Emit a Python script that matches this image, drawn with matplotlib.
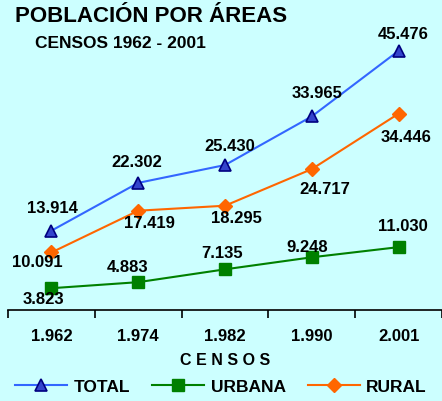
import matplotlib.pyplot as plt

# --------------------------
# DATOS
# --------------------------
censos = ["1.962", "1.974", "1.982", "1.990", "2.001"]
total = [13.914, 22.302, 25.430, 33.965, 45.476]
urbana = [3.823, 4.883, 7.135, 9.248, 11.030]
rural = [10.091, 17.419, 18.295, 24.717, 34.446]

# desplazamiento de etiquetas (pixeles)
off_total = [(1, 22), (-1, 20), (5, 19), (5, 23), (5, 16)]
off_urbana = [(-8, -11), (-11, 15), (-3, 16), (-5, 10), (4, 21)]
off_rural = [(-14, -10), (11, -13), (11, -13), (13, -20), (7, -24)]

plt.rcParams['font.family'] = ['Liberation Sans', 'DejaVu Sans']
plt.rcParams['font.weight'] = 'bold'

bg = "#CCFFFF"
fig = plt.figure(figsize=(4.42, 4.01), dpi=100, facecolor=bg)
ax = fig.add_axes([8 / 442, 1 - 310 / 401, 1 - 8 / 442, 285 / 401])
ax.set_facecolor(bg)

x = list(range(len(censos)))
ax.plot(x, total, color="#3366FF", lw=1.5, marker="^", ms=9,
        mfc="#3344CC", mec="#000080", mew=1.2, label="TOTAL")
ax.plot(x, urbana, color="#008000", lw=1.5, marker="s", ms=8,
        mfc="#008000", mec="#008000", label="URBANA")
ax.plot(x, rural, color="#FF6600", lw=1.5, marker="D", ms=7,
        mfc="#FF6600", mec="#FF6600", label="RURAL")

def etiquetas(vals, offs):
    for i, (v, o) in enumerate(zip(vals, offs)):
        ax.annotate(f"{v:.3f}", (i, v), xytext=o, textcoords="offset pixels",
                    ha="center", va="center", fontsize=12, fontweight="bold")

etiquetas(total, off_total)
etiquetas(urbana, off_urbana)
etiquetas(rural, off_rural)

ax.set_xlim(-0.5, 4.5)
ax.set_ylim(0, 50)
ax.set_yticks([])
for s in ["top", "right", "left"]:
    ax.spines[s].set_visible(False)
ax.spines["bottom"].set_linewidth(1.2)

ax.set_xticks(x)
ax.set_xticklabels(censos, fontsize=12, fontweight="bold")
ax.set_xticks([i - 0.5 for i in range(len(censos) + 1)], minor=True)
ax.tick_params(axis="x", which="major", length=0, pad=14)
ax.tick_params(axis="x", which="minor", length=6, width=1.2, direction="out")
ax.set_xlabel("C E N S O S", fontsize=11.5, fontweight="bold", labelpad=6.5)

fig.text(15 / 442, 1 - 17 / 401, "POBLACIÓN POR ÁREAS", fontsize=16,
         fontweight="bold", va="center", ha="left")
fig.text(35 / 442, 1 - 43 / 401, "CENSOS 1962 - 2001", fontsize=12.5,
         fontweight="bold", va="center", ha="left")

fig.legend(loc="center", bbox_to_anchor=(0.5, 1 - 387 / 401), ncol=3,
           frameon=False, fontsize=12.5, handlelength=3.0, handletextpad=0.35,
           columnspacing=1.3, borderaxespad=0)

fig.savefig("out.png", dpi=100, facecolor=bg)
